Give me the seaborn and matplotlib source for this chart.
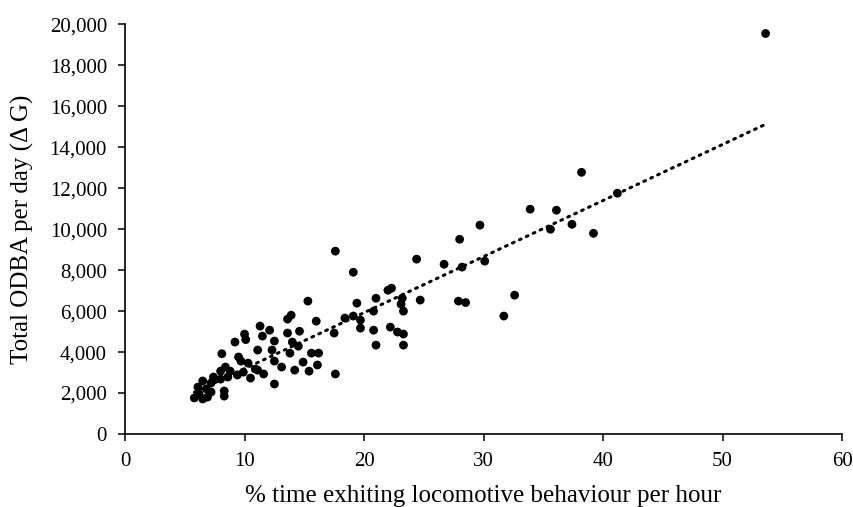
import numpy as np
import pandas as pd
import matplotlib
matplotlib.use("Agg")
import matplotlib.pyplot as plt
import seaborn as sns
from matplotlib.ticker import FuncFormatter

pct_time = [53.6, 38.2, 41.2, 33.9, 36.1, 29.7, 37.4, 35.6, 39.2, 28.0,
            30.1, 28.2, 26.7, 24.4, 17.6, 19.1, 32.6, 31.7, 27.9, 28.5,
            24.7, 22.0, 22.3, 15.3, 21.0, 19.4, 23.2, 23.1, 23.3, 20.8,
            18.4, 19.1, 19.7, 16.0, 13.9, 13.6, 11.3, 12.1, 11.5, 13.6,
            14.6, 17.5, 19.7, 20.8, 22.2, 22.8, 23.3, 21.0, 23.3, 12.5,
            14.0, 14.5, 11.1, 12.3, 13.8, 15.6, 16.2, 12.5, 14.9, 13.1,
            16.1, 14.2, 15.4, 11.1, 11.6, 17.6, 12.5, 10.0, 10.1, 9.2,
            8.1, 9.5, 9.7, 10.3, 8.4, 10.9, 8.8, 8.0, 9.9, 9.4,
            7.4, 10.5, 8.6, 8.0, 6.5, 7.2, 6.1, 6.8, 8.3, 7.2,
            6.2, 8.3, 5.8, 6.5, 6.9]
odba = [19560, 12780, 11760, 10980, 10930, 10200, 10240, 10000, 9800, 9510,
        8440, 8150, 8290, 8540, 8930, 7900, 6780, 5760, 6490, 6420,
        6540, 7020, 7120, 6490, 6630, 6390, 6630, 6340, 6000, 6000,
        5660, 5760, 5560, 5510, 5800, 5610, 5270, 5070, 4780, 4930,
        5020, 4930, 5170, 5070, 5220, 4980, 4880, 4340, 4340, 4540,
        4490, 4290, 4100, 4100, 3950, 3950, 3950, 3560, 3510, 3270,
        3370, 3120, 3070, 3120, 2930, 2930, 2440, 4880, 4610, 4490,
        3920, 3760, 3560, 3460, 3270, 3170, 3070, 3070, 3020, 2880,
        2780, 2730, 2780, 2680, 2590, 2490, 2290, 2200, 2100, 2050,
        1950, 1850, 1760, 1710, 1800]

x_ticks = [0, 10, 20, 30, 40, 50, 60]
y_ticks = [0, 2000, 4000, 6000, 8000, 10000, 12000, 14000, 16000, 18000, 20000]
x_label = "% time exhiting locomotive behaviour per hour"
y_label = "Total ODBA per day (\u0394 G)"

df = pd.DataFrame({"pct": pct_time, "odba": odba})

sns.set_theme(style="white")
plt.rcParams["font.family"] = ["Liberation Serif", "DejaVu Serif"]

fig = plt.figure(figsize=(8.54, 5.07), dpi=100)
ax = fig.add_axes([0.1464, 0.144, 0.8396, 0.8077])

sns.regplot(data=df, x="pct", y="odba", scatter=False, ci=None, ax=ax,
            line_kws={"color": "black", "lw": 2.2, "ls": (0, (0.6, 1.9)),
                      "dash_capstyle": "round"})
sns.scatterplot(data=df, x="pct", y="odba", ax=ax, color="black", s=40,
                edgecolor="none", linewidth=0, zorder=3)

ax.set_xlim(0, 60)
ax.set_ylim(0, 20000)
ax.set_xticks(x_ticks)
ax.set_yticks(y_ticks)
ax.yaxis.set_major_formatter(FuncFormatter(lambda v, p: f"{int(v):,}"))
ax.set_xlabel(x_label, fontsize=18, color="black", labelpad=10)
ax.set_ylabel(y_label, fontsize=18, color="black", labelpad=11)
ax.tick_params(axis="both", which="major", labelsize=15, colors="black",
               direction="out", length=5, width=1.1, bottom=True, left=True)
ax.tick_params(axis="x", pad=8)
ax.tick_params(axis="y", pad=8)
for side in ["top", "right"]:
    ax.spines[side].set_visible(False)
for side in ["left", "bottom"]:
    ax.spines[side].set_color("black")
    ax.spines[side].set_linewidth(1.2)
ax.grid(False)

fig.savefig("out.png", dpi=100)
